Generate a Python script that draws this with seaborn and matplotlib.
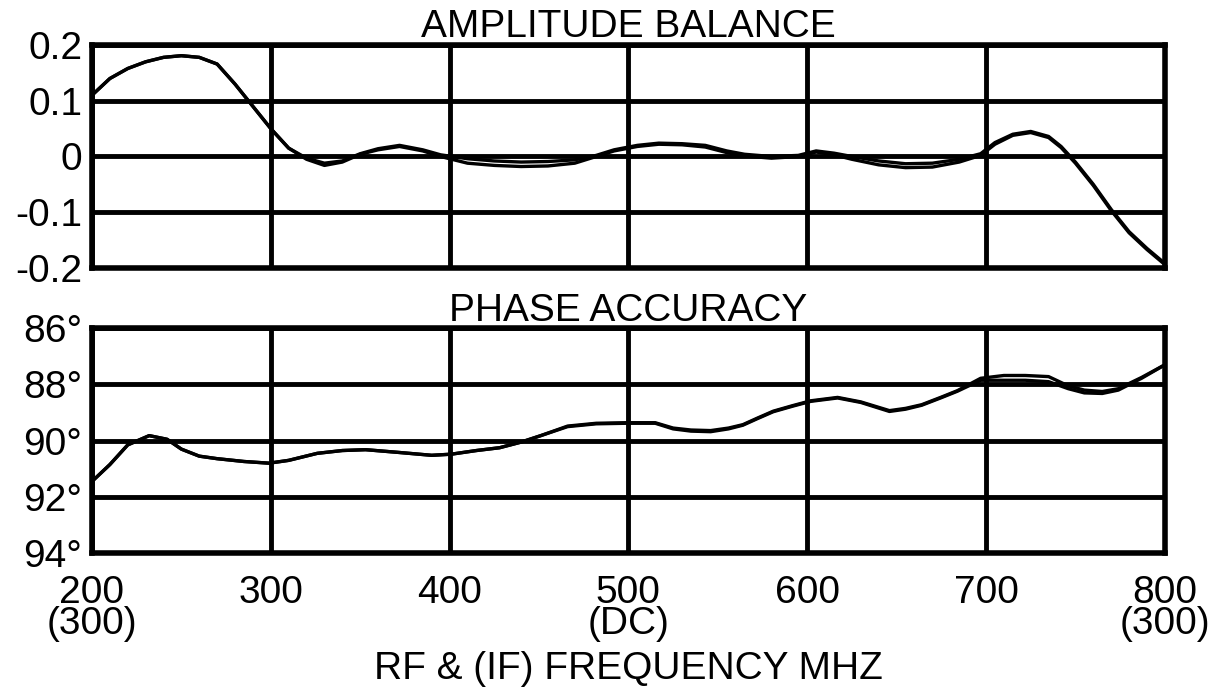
import matplotlib
matplotlib.use("Agg")
import matplotlib.pyplot as plt
import seaborn as sns
import pandas as pd

# 振幅平衡 (两条扫描曲线)
amp_freq = [200, 210, 220, 230, 240, 250, 260, 270, 280, 290, 300, 310, 320, 330, 340,
            350, 360, 372, 385, 395, 410, 425, 440, 455, 470, 482, 492, 505, 517, 530,
            543, 555, 565, 580, 595, 605, 615, 625, 640, 655, 670, 685, 697, 705, 715,
            725, 735, 742, 750, 760, 770, 780, 790, 800]
amp_a = [0.110, 0.140, 0.158, 0.170, 0.178, 0.181, 0.178, 0.166, 0.130, 0.090, 0.050,
         0.015, -0.003, -0.012, -0.008, 0.005, 0.014, 0.020, 0.012, 0.003, -0.004, -0.008,
         -0.010, -0.009, -0.006, 0.002, 0.012, 0.020, 0.024, 0.023, 0.020, 0.010, 0.004,
         0.000, 0.002, 0.010, 0.006, 0.000, -0.008, -0.013, -0.012, -0.005, 0.005, 0.025,
         0.040, 0.045, 0.036, 0.018, -0.010, -0.050, -0.095, -0.135, -0.165, -0.192]
amp_b = [0.110, 0.140, 0.158, 0.170, 0.178, 0.181, 0.178, 0.166, 0.130, 0.090, 0.050,
         0.015, -0.005, -0.016, -0.010, 0.004, 0.012, 0.018, 0.010, 0.000, -0.012, -0.016,
         -0.018, -0.017, -0.012, 0.000, 0.010, 0.018, 0.022, 0.021, 0.017, 0.007, 0.001,
         -0.003, 0.000, 0.008, 0.003, -0.005, -0.015, -0.020, -0.019, -0.010, 0.002, 0.022,
         0.038, 0.043, 0.034, 0.016, -0.012, -0.052, -0.097, -0.137, -0.167, -0.194]

# 相位精度
ph_freq = [200, 210, 220, 232, 242, 250, 260, 270, 285, 299, 310, 326, 340, 353, 372,
           390, 401, 415, 428, 440, 451, 466, 482, 499, 515, 525, 535, 546, 556, 564,
           572, 581, 592, 602, 617, 630, 646, 655, 664, 675, 684, 697, 710, 722, 735,
           746, 755, 765, 774, 787, 800]
ph_a = [91.45, 90.85, 90.15, 89.82, 89.95, 90.30, 90.55, 90.64, 90.74, 90.80, 90.70,
        90.45, 90.35, 90.32, 90.42, 90.52, 90.48, 90.35, 90.25, 90.05, 89.82, 89.48,
        89.38, 89.36, 89.36, 89.55, 89.62, 89.64, 89.55, 89.43, 89.20, 88.95, 88.75,
        88.58, 88.46, 88.62, 88.93, 88.85, 88.72, 88.45, 88.22, 87.78, 87.68, 87.68,
        87.72, 88.05, 88.20, 88.25, 88.15, 87.75, 87.30]
ph_b = [91.45, 90.85, 90.15, 89.82, 89.95, 90.30, 90.55, 90.64, 90.74, 90.80, 90.70,
        90.45, 90.35, 90.32, 90.42, 90.52, 90.48, 90.35, 90.25, 90.05, 89.82, 89.50,
        89.40, 89.38, 89.38, 89.58, 89.66, 89.68, 89.58, 89.45, 89.22, 88.97, 88.77,
        88.60, 88.48, 88.64, 88.96, 88.88, 88.74, 88.47, 88.24, 87.85, 87.85, 87.85,
        87.90, 88.15, 88.30, 88.32, 88.20, 87.78, 87.30]

x_ticks = [200, 300, 400, 500, 600, 700, 800]
x_labels = ["200\n(300)", "300", "400", "500\n(DC)", "600", "700", "800\n(300)"]
amp_ticks = [-0.2, -0.1, 0, 0.1, 0.2]
amp_labels = ["-0.2", "-0.1", "0", "0.1", "0.2"]
ph_ticks = [86, 88, 90, 92, 94]
ph_labels = ["86°", "88°", "90°", "92°", "94°"]

sns.set_style("white")
plt.rcParams['font.family'] = ['Liberation Sans', 'DejaVu Sans']
plt.rcParams['text.color'] = 'black'
plt.rcParams['xtick.color'] = 'black'
plt.rcParams['ytick.color'] = 'black'
plt.rcParams['axes.labelcolor'] = 'black'

amp_df = pd.DataFrame({"freq": amp_freq * 2, "val": amp_a + amp_b,
                       "trace": ["a"] * len(amp_a) + ["b"] * len(amp_b)})
ph_df = pd.DataFrame({"freq": ph_freq * 2, "val": ph_a + ph_b,
                      "trace": ["a"] * len(ph_a) + ["b"] * len(ph_b)})

fig = plt.figure(figsize=(12.15, 6.94), dpi=100)
ax1 = fig.add_axes([0.0757, 0.614, 0.883, 0.321])
ax2 = fig.add_axes([0.0757, 0.203, 0.883, 0.324])

sns.lineplot(data=amp_df, x="freq", y="val", units="trace", estimator=None, sort=False,
             color="black", lw=2.4, ax=ax1, legend=False)
sns.lineplot(data=ph_df, x="freq", y="val", units="trace", estimator=None, sort=False,
             color="black", lw=2.4, ax=ax2, legend=False)

for ax in (ax1, ax2):
    ax.set_xlim(200, 800)
    ax.set_xticks(x_ticks)
    ax.grid(True, color="black", lw=3.5)
    ax.set_axisbelow(True)
    for s in ax.spines.values():
        s.set_visible(True)
        s.set_color("black")
        s.set_linewidth(4)
    ax.tick_params(length=0, labelsize=28)
    ax.tick_params(axis="y", pad=7)
    ax.tick_params(axis="x", pad=16)
    ax.set_xlabel("")
    ax.set_ylabel("")

ax1.set_ylim(-0.2, 0.2)
ax1.set_yticks(amp_ticks)
ax1.set_yticklabels(amp_labels)
ax1.set_xticklabels([])
ax1.set_title("AMPLITUDE BALANCE", fontsize=28, pad=3)

ax2.set_ylim(94, 86)
ax2.set_yticks(ph_ticks)
ax2.set_yticklabels(ph_labels)
ax2.set_xticklabels(x_labels, linespacing=0.8)
ax2.set_title("PHASE ACCURACY", fontsize=28, pad=5)
ax2.set_xlabel("RF & (IF) FREQUENCY MHZ", fontsize=28, labelpad=7)

fig.savefig("out.png", dpi=100)
